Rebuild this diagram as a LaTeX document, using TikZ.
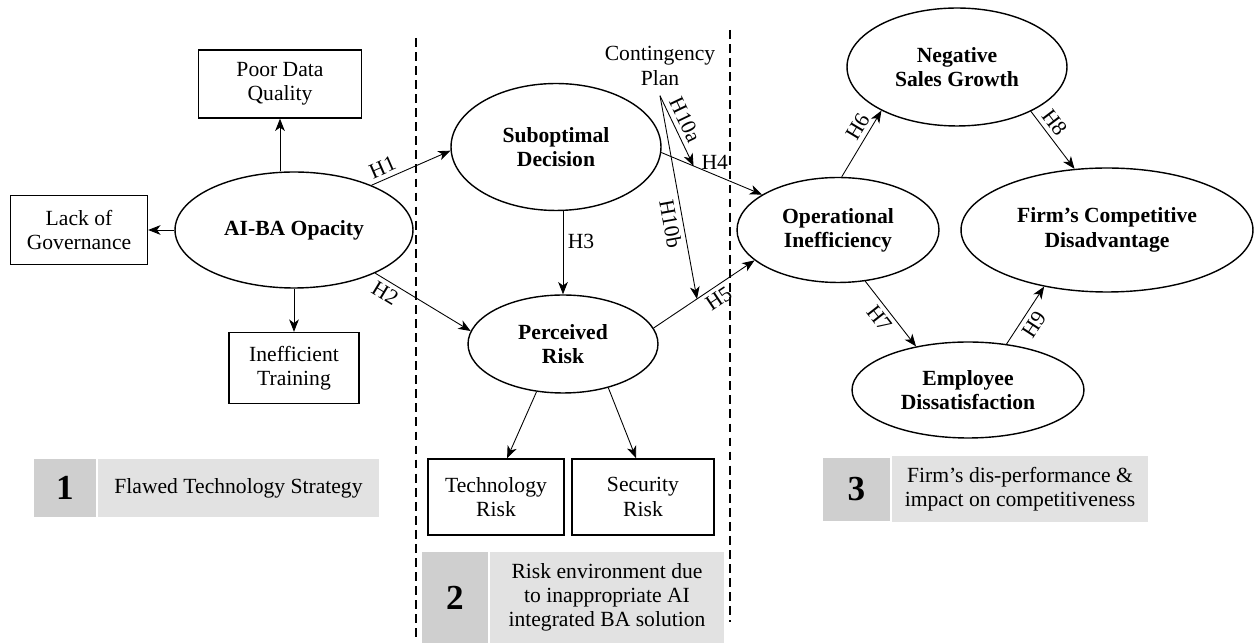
\documentclass[tikz,border=0pt]{standalone}
\usepackage{fontspec}
\setmainfont{Liberation Serif}
\usetikzlibrary{arrows.meta,positioning,shapes.geometric,calc}

\definecolor{bandDark}{gray}{0.81}
\definecolor{bandLight}{gray}{0.885}

\begin{document}
\begin{tikzpicture}[
    x=0.02cm, y=-0.02cm,
    font=\fontsize{12.3}{13.8}\selectfont,
    box/.style={draw,line width=0.8pt,align=center,inner sep=0pt},
    lat/.style={draw,ellipse,line width=0.8pt,align=center,inner sep=0pt,
      font=\fontsize{12.3}{13.8}\selectfont\bfseries},
    arr/.style={-{Stealth[length=7pt,width=5.5pt,inset=2pt]},line width=0.5pt},
    hyp/.style={inner sep=2.5pt},
    num/.style={fill=bandDark,draw=white,line width=1pt,inner sep=0pt,
      font=\fontsize{20}{22}\selectfont\bfseries},
    band/.style={fill=bandLight,draw=white,line width=1pt,align=center,inner sep=0pt},
    sep/.style={line width=0.8pt,dash pattern=on 5pt off 3pt}
  ]
    \useasboundingbox (0,0) rectangle (1255,644);

    % stage 1
    \node[lat,minimum width=4.76cm,minimum height=2.32cm] (aiba) at (294,230) {AI-BA Opacity};
    \node[box,minimum width=3.26cm,minimum height=1.36cm] (pdq) at (280,84) {Poor Data\\Quality};
    \node[box,minimum width=2.74cm,minimum height=1.38cm] (lack) at (79,230) {Lack of\\Governance};
    \node[box,minimum width=2.6cm,minimum height=1.42cm] (train) at (294,368) {Inefficient\\Training};
    \draw[arr] (aiba.north -| pdq.south) -- (pdq.south);
    \draw[arr] (aiba.west) -- (lack.east);
    \draw[arr] (aiba.south) -- (train.north);

    % stage 2
    \node[lat,minimum width=4.2cm,minimum height=2.54cm] (subopt) at (556,147) {Suboptimal\\Decision};
    \node[lat,minimum width=3.8cm,minimum height=1.96cm] (perc) at (563,344) {Perceived\\Risk};
    \node[box,minimum width=2.72cm,minimum height=1.52cm] (tech) at (496,497) {Technology\\Risk};
    \node[box,minimum width=2.84cm,minimum height=1.52cm] (sec) at (643,497) {Security\\Risk};
    \node[align=center,inner sep=0pt] (cont) at (660,66) {Contingency\\Plan};
    \coordinate[below=0.2cm of cont] (cp);
    \draw[arr] (perc.241) -- (tech.74);
    \draw[arr] (perc.-44) -- (sec.100);

    % stage 3
    \node[lat,minimum width=4.04cm,minimum height=2.1cm] (oper) at (838,230) {Operational\\Inefficiency};
    \node[lat,minimum width=4.4cm,minimum height=2.36cm] (neg) at (957,67) {Negative\\Sales Growth};
    \node[lat,minimum width=5.84cm,minimum height=2.48cm] (firm) at (1107,230) {Firm’s Competitive\\Disadvantage};
    \node[lat,minimum width=4.64cm,minimum height=1.92cm] (emp) at (968,390) {Employee\\Dissatisfaction};

    % hypotheses
    \draw[arr] (aiba.30) -- node[hyp,sloped,above,pos=0.2] {H1} (subopt.182);
    \draw[arr] (aiba.-28) -- node[hyp,sloped,below,pos=0.17] {H2} (perc.172);
    \draw[arr] (subopt.south -| perc.north) -- node[hyp,right,pos=0.37] {H3} (perc.north);
    \draw[arr] (subopt.-3) -- node[hyp,above,pos=0.53] {H4} (oper.155);
    \draw[arr] (perc.10) -- node[hyp,sloped,below,pos=0.58] {H5} (oper.200);
    \draw[arr] (oper.86) -- node[hyp,sloped,above,pos=0.66] {H6} (neg.210);
    \draw[arr] (oper.-62) -- node[hyp,sloped,below,pos=0.46] {H7} (emp.140);
    \draw[arr] (neg.-31) -- node[hyp,sloped,above,pos=0.32] {H8} (firm.118);
    \draw[arr] (emp.50) -- node[hyp,sloped,below,pos=0.46] {H9} (firm.222);
    \coordinate (h4pt) at ($(subopt.-3)!0.32!(oper.155)$);
    \coordinate (h5pt) at ($(perc.10)!0.43!(oper.200)$);
    \draw[arr] (cp) -- node[hyp,sloped,above,pos=0.42] {H10a} (h4pt);
    \draw[arr] (cp) -- node[hyp,sloped,below,pos=0.62] {H10b} (h5pt);

    % stage separators
    \draw[sep] (416,38) -- (416,642);
    \draw[sep] (730,30) -- (730,622);

    % stage bands
    \node[num,minimum width=1.28cm,minimum height=1.18cm] (b1num) at (65,488) {1};
    \node[band,minimum width=5.66cm,minimum height=1.2cm] (b1txt) at (238.5,488) {Flawed Technology Strategy};
    \node[num,minimum width=1.36cm,minimum height=1.86cm] (b2num) at (455,597.5) {2};
    \node[band,minimum width=4.72cm,minimum height=1.86cm] (b2txt) at (607,597.5)
      {Risk environment due\\to inappropriate AI\\integrated BA solution};
    \node[num,minimum width=1.38cm,minimum height=1.3cm] (b3num) at (856.5,489.5) {3};
    \node[band,minimum width=5.16cm,minimum height=1.36cm] (b3txt) at (1020,489)
      {Firm’s dis-performance \&\\impact on competitiveness};
  \end{tikzpicture}
\end{document}
